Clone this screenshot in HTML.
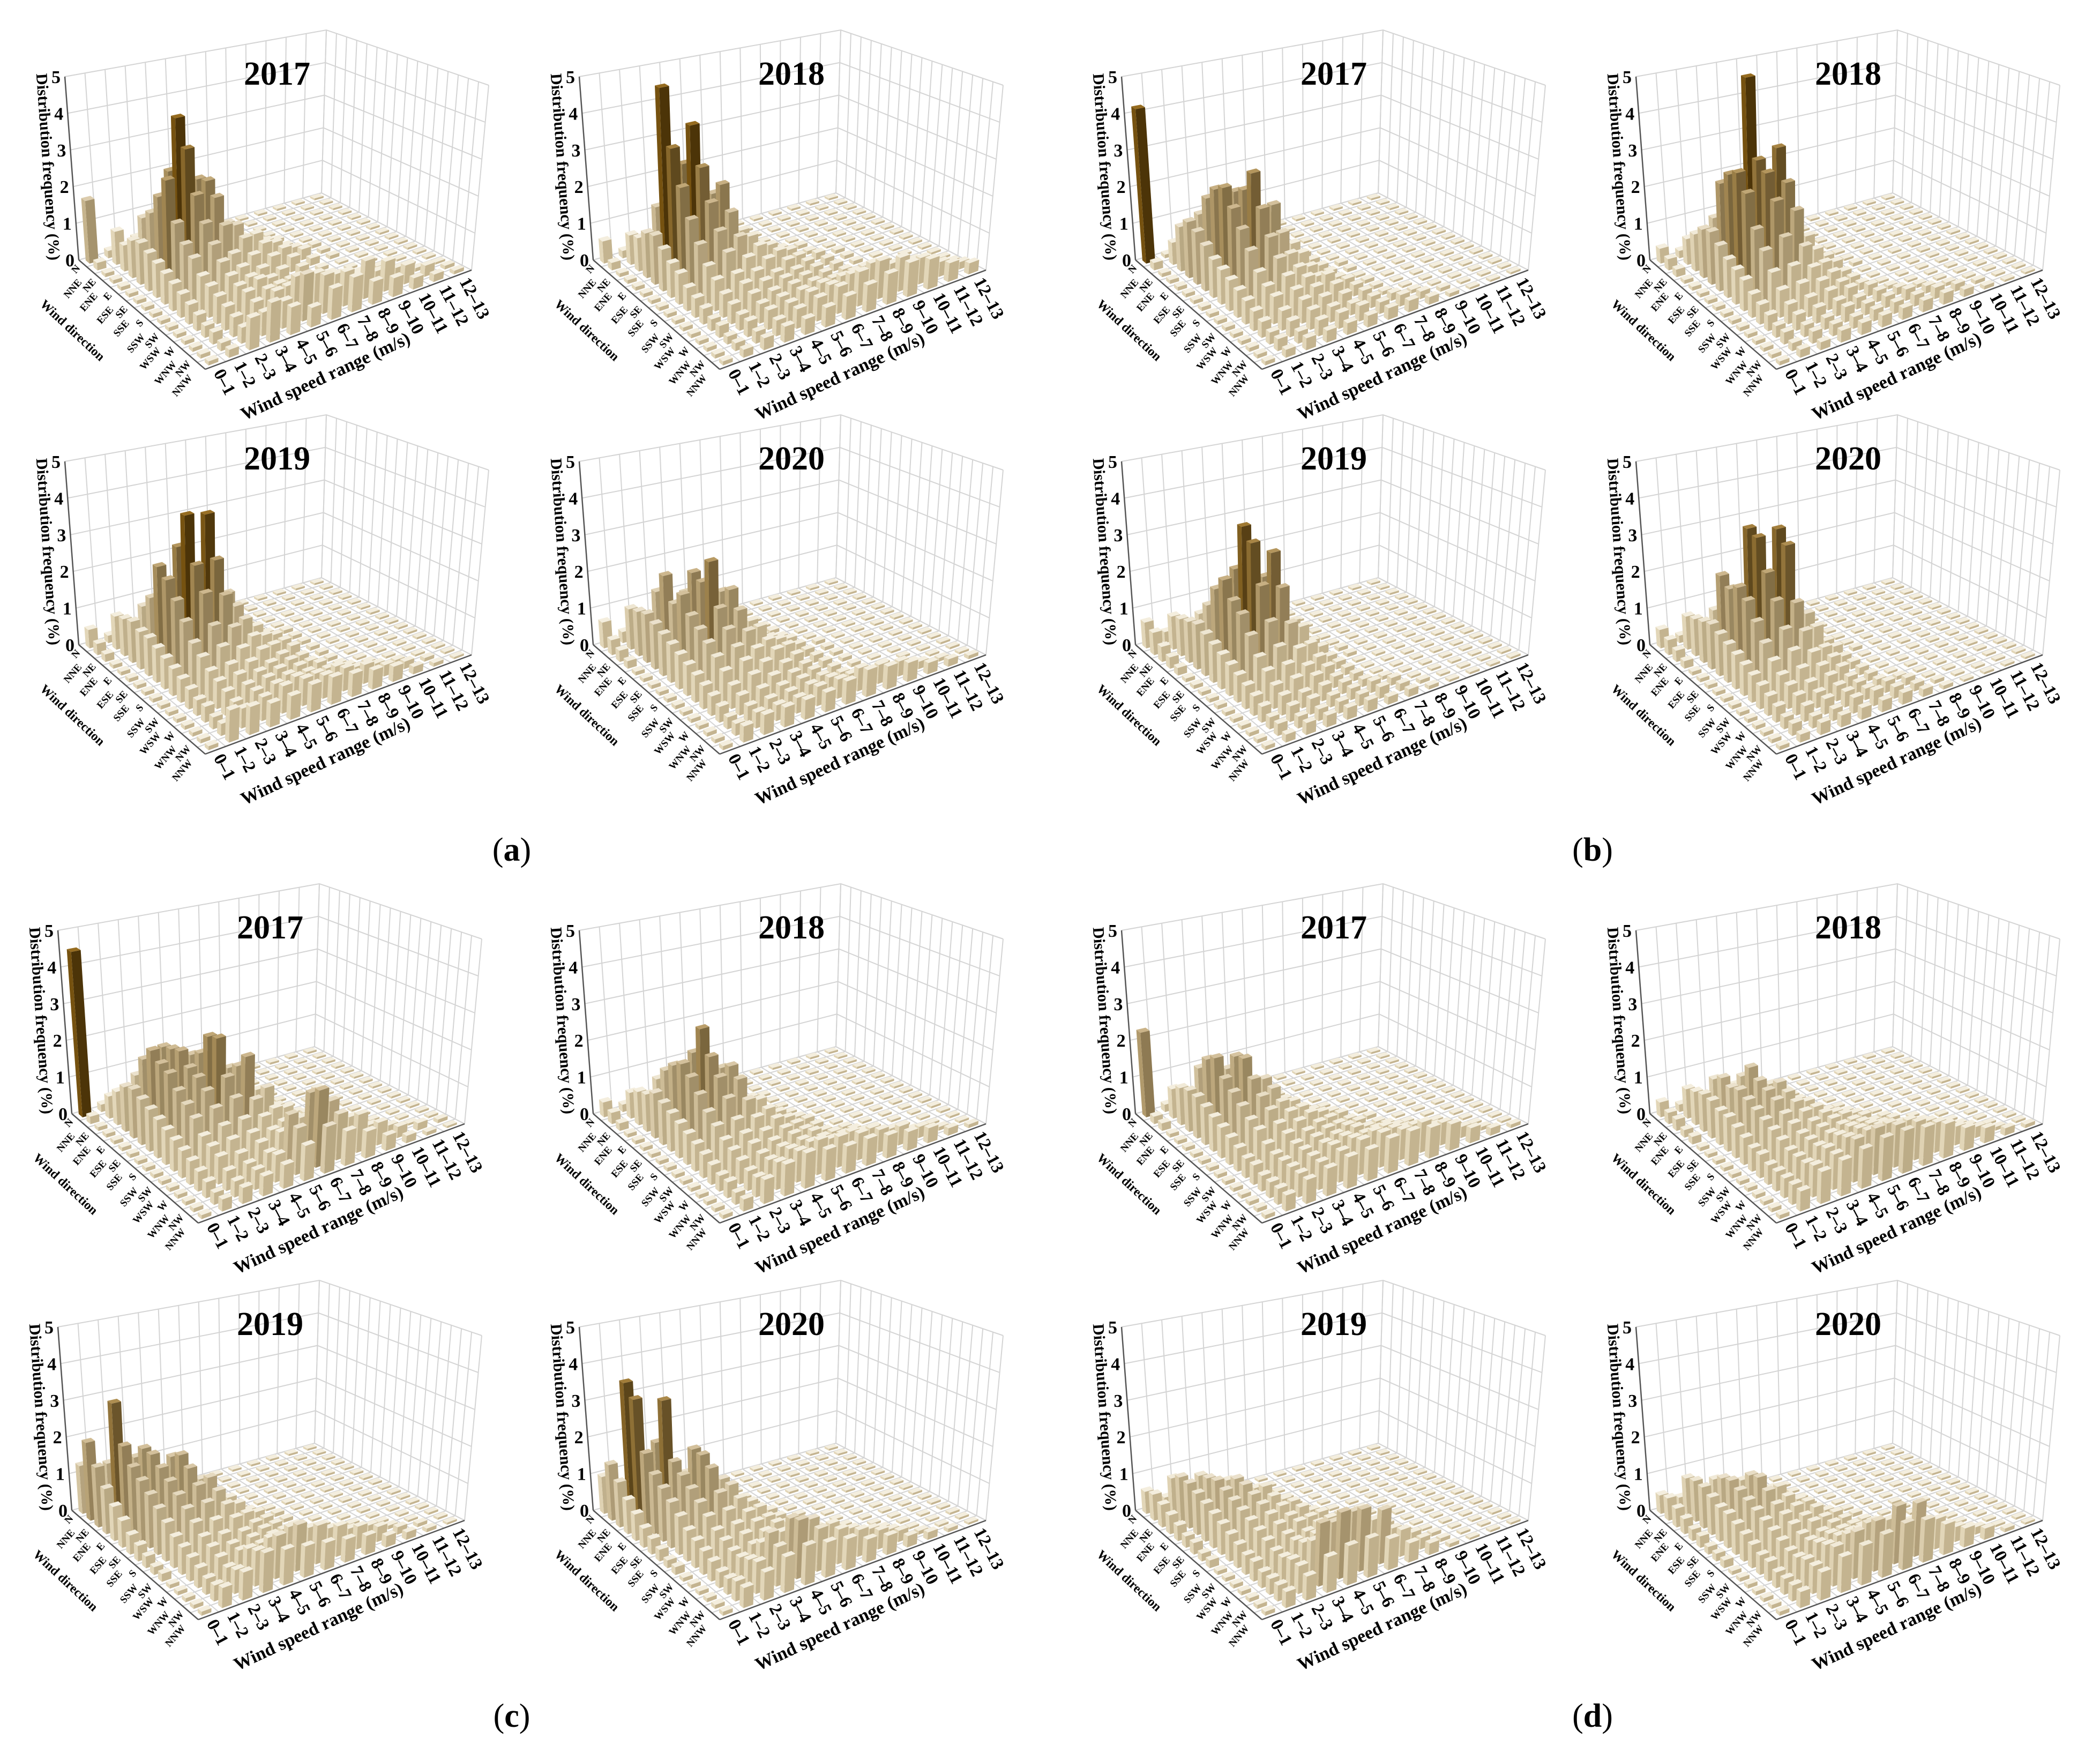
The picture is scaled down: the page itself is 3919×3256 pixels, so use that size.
<!DOCTYPE html>
<html><head><meta charset="utf-8">
<style>
html,body{margin:0;padding:0;background:#fff;}
svg{display:block;}
text{font-family:"Liberation Serif",serif;}
</style></head>
<body>
<svg id="fig" width="3919" height="3256" viewBox="0 0 3919 3256" xmlns="http://www.w3.org/2000/svg">
<rect width="3919" height="3256" fill="#fff"/>
<text x="955" y="1606" font-size="62" text-anchor="middle">(<tspan font-weight="bold">a</tspan>)</text>
<text x="2972" y="1606" font-size="62" text-anchor="middle">(<tspan font-weight="bold">b</tspan>)</text>
<text x="955" y="3222" font-size="62" text-anchor="middle">(<tspan font-weight="bold">c</tspan>)</text>
<text x="2972" y="3222" font-size="62" text-anchor="middle">(<tspan font-weight="bold">d</tspan>)</text>
</svg>
<script>
const directions=["N","NNE","NE","ENE","E","ESE","SE","SSE","S","SSW","SW","WSW","W","WNW","NW","NNW"];
const speeds=["0–1","1–2","2–3","3–4","4–5","5–6","6–7","7–8","8–9","9–10","10–11","11–12","12–13"];
const zTicks=[0,1,2,3,4,5];
const years=["2017","2018","2019","2020"];

const A17=[[1.7,0.2,0.1],[0.2,0.9,0.6,0.3,0.1],[0.1,0.7,1.3,0.8,0.4,0.2,0.1],[0.1,1.0,1.6,2.6,1.6,0.6,0.3,0.1],[0.1,1.1,2.2,4.2,2.4,1.0,0.5,0.2,0.1],[0.1,1.0,2.8,3.5,2.5,1.2,0.6,0.4,0.1],[0.1,0.9,1.8,2.4,2.2,1.3,0.9,0.5,0.2,0.1],[0.1,0.8,1.4,1.8,1.6,1.1,0.8,0.5,0.3,0.1],[0.1,0.7,1.2,1.4,1.0,0.8,0.6,0.4,0.2,0.1],[0.1,0.6,0.9,1.1,0.8,0.6,0.4,0.3,0.1],[0.1,0.5,0.8,0.9,0.7,0.5,0.3,0.2,0.1],[0.1,0.4,0.7,0.8,0.8,0.5,0.4,0.3,0.2,0.1],[0.1,0.3,0.6,0.8,0.7,0.6,0.5,0.4,0.3,0.2,0.1],[0.1,0.3,0.5,0.7,0.8,1.0,0.9,0.7,0.5,0.4,0.3,0.1],[0.1,0.2,0.4,0.6,0.7,1.2,1.0,0.9,1.0,0.8,0.5,0.3,0.1],[0.1,0.2,0.8,1.0,0.7,0.5,0.8,0.9,0.6,0.5,0.3,0.2,0.1]];
const A18=[[0.6,0.2,0.1],[0.2,0.8,0.5,0.2,0.1],[0.1,0.9,1.6,0.9,0.3,0.1],[0.1,1.2,5.0,2.8,1.2,0.4,0.1],[0.1,1.3,3.5,4.0,2.0,0.8,0.3,0.1],[0.1,1.1,2.6,3.0,2.4,1.0,0.4,0.2,0.1],[0.1,0.9,1.9,2.2,1.8,1.0,0.6,0.3,0.1],[0.1,0.8,1.4,1.6,1.3,0.9,0.6,0.3,0.2,0.1],[0.1,0.6,1.0,1.2,0.9,0.7,0.5,0.3,0.2,0.1],[0.1,0.5,0.8,0.8,0.7,0.5,0.4,0.3,0.2,0.1],[0.1,0.4,0.6,0.7,0.6,0.5,0.4,0.3,0.2,0.1],[0.1,0.3,0.5,0.6,0.5,0.5,0.4,0.3,0.3,0.2,0.1],[0.1,0.3,0.4,0.5,0.5,0.5,0.5,0.5,0.4,0.3,0.2,0.1],[0.1,0.2,0.4,0.5,0.5,0.6,0.6,0.7,0.8,0.6,0.4,0.2,0.1],[0.1,0.2,0.3,0.4,0.5,0.6,0.7,0.9,1.0,0.9,0.7,0.4,0.2],[0.1,0.2,0.3,0.4,0.4,0.5,0.6,0.7,0.8,0.9,0.8,0.5,0.3]];
const A19=[[0.5,0.2,0.1],[0.3,0.9,0.6,0.3,0.1],[0.2,1.0,1.2,0.9,0.4,0.1],[0.1,1.1,1.6,1.8,1.0,0.4,0.1],[0.1,1.0,2.6,3.0,2.0,0.8,0.3,0.1],[0.1,1.0,2.4,4.0,3.9,1.6,0.6,0.2,0.1],[0.1,0.9,2.0,2.8,2.8,1.4,0.7,0.3,0.1],[0.1,0.8,1.6,2.2,2.0,1.2,0.6,0.3,0.1],[0.1,0.7,1.2,1.5,1.3,0.9,0.5,0.3,0.1],[0.1,0.6,1.0,1.1,0.9,0.7,0.4,0.2,0.1],[0.1,0.5,0.8,0.8,0.7,0.5,0.4,0.2,0.1],[0.1,0.4,0.7,0.7,0.6,0.5,0.4,0.3,0.1],[0.1,0.4,0.6,0.6,0.6,0.5,0.4,0.3,0.2,0.1],[0.1,0.3,0.5,0.6,0.6,0.6,0.5,0.5,0.3,0.2,0.1],[0.1,0.3,0.5,0.6,0.7,0.7,0.6,0.6,0.5,0.3,0.2,0.1],[0.1,0.8,0.7,0.6,0.6,0.7,0.7,0.6,0.5,0.4,0.2,0.1]];
const A20=[[0.7,0.3,0.1],[0.4,1.1,0.8,0.3,0.1],[0.3,1.2,1.6,1.1,0.4,0.1],[0.2,1.3,2.2,1.6,0.8,0.3,0.1],[0.1,1.2,1.6,2.3,1.4,0.6,0.2,0.1],[0.1,1.1,2.0,2.2,1.8,0.8,0.3,0.1],[0.1,1.0,1.6,2.9,2.0,1.0,0.4,0.2],[0.1,0.9,1.4,1.8,1.6,1.0,0.5,0.2,0.1],[0.1,0.8,1.2,1.4,1.2,0.8,0.5,0.2,0.1],[0.1,0.7,1.0,1.1,0.9,0.7,0.4,0.2,0.1],[0.1,0.6,0.8,0.9,0.7,0.5,0.3,0.2,0.1],[0.1,0.5,0.6,0.7,0.5,0.4,0.3,0.2,0.1],[0.1,0.4,0.5,0.5,0.4,0.4,0.3,0.2,0.1],[0.1,0.3,0.4,0.4,0.4,0.4,0.4,0.3,0.2,0.1],[0.1,0.3,0.4,0.4,0.4,0.5,0.5,0.6,0.5,0.4,0.2,0.1],[0.1,0.4,0.5,0.5,0.5,0.5,0.6,0.7,0.6,0.5,0.3,0.2,0.1]];
const B17=[[4.2,0.1],[0.2,0.6,0.3,0.1],[0.1,1.2,1.4,0.6,0.2],[0.1,1.5,2.0,1.6,0.6,0.2],[0.1,1.4,2.4,2.2,1.2,0.4,0.1],[0.1,1.2,2.6,2.4,1.6,0.6,0.2],[0.1,1.0,2.2,3.0,2.0,0.8,0.2],[0.1,0.9,1.8,2.2,1.4,0.7,0.2,0.1],[0.1,0.8,1.4,1.6,1.0,0.5,0.2,0.1],[0.1,0.7,1.0,1.2,0.8,0.4,0.2],[0.1,0.6,0.8,0.9,0.7,0.6,0.3,0.1],[0.1,0.5,0.7,0.7,0.6,0.5,0.3,0.1],[0.1,0.4,0.5,0.6,0.5,0.4,0.3,0.1],[0.1,0.3,0.4,0.5,0.4,0.3,0.3,0.2,0.1],[0.1,0.3,0.3,0.4,0.4,0.4,0.3,0.3,0.2,0.1],[0.1,0.2,0.3,0.3,0.3,0.3,0.3,0.3,0.2,0.1]];
const B18=[[0.4,0.2],[0.3,0.7,0.4,0.1],[0.2,1.0,1.3,0.8,0.2],[0.1,1.3,2.4,1.6,0.6,0.1],[0.1,1.4,2.8,5.3,2.2,0.5,0.1],[0.1,1.2,3.0,3.2,3.4,0.8,0.2],[0.1,1.0,2.6,3.0,2.6,1.0,0.3],[0.1,0.9,1.8,2.4,2.0,0.8,0.3,0.1],[0.1,0.8,1.4,1.6,1.2,0.6,0.2],[0.1,0.6,1.0,1.0,0.8,0.5,0.2],[0.1,0.5,0.7,0.7,0.6,0.4,0.2],[0.1,0.4,0.5,0.5,0.5,0.4,0.3,0.1],[0.1,0.3,0.4,0.4,0.4,0.3,0.3,0.2,0.1],[0.1,0.3,0.3,0.3,0.4,0.3,0.3,0.3,0.2,0.1],[0.1,0.2,0.3,0.3,0.3,0.3,0.3,0.3,0.3,0.2,0.1],[0.1,0.2,0.2,0.3,0.3,0.3,0.3,0.3,0.3,0.2,0.1]];
const B19=[[0.7,0.3],[0.6,0.9,0.4,0.1],[0.4,1.0,1.0,0.6,0.2],[0.3,1.1,1.4,1.2,0.5,0.1],[0.2,1.2,2.0,2.4,1.0,0.3],[0.1,1.1,2.4,3.7,2.2,0.6,0.2],[0.1,1.0,2.0,3.4,3.0,1.0,0.3],[0.1,0.9,1.8,2.4,2.2,1.0,0.3,0.1],[0.1,0.8,1.4,1.6,1.4,0.7,0.2,0.1],[0.1,0.7,1.0,1.1,0.9,0.5,0.2],[0.1,0.6,0.8,0.8,0.6,0.4,0.2],[0.1,0.5,0.6,0.6,0.5,0.3,0.2],[0.1,0.4,0.5,0.4,0.4,0.3,0.2,0.1],[0.1,0.3,0.4,0.4,0.3,0.3,0.3,0.2],[0.1,0.3,0.3,0.3,0.3,0.3,0.3,0.2,0.1],[0.1,0.2,0.3,0.3,0.3,0.3,0.2,0.2,0.1]];
const B20=[[0.5,0.2],[0.4,0.9,0.4,0.1],[0.3,1.0,1.1,0.6,0.2],[0.2,1.1,2.2,1.4,0.5,0.1],[0.1,1.2,2.0,3.5,1.6,0.4,0.1],[0.1,1.1,2.2,3.4,3.5,0.9,0.2],[0.1,1.0,2.0,2.6,3.2,1.2,0.3],[0.1,0.9,1.6,2.0,1.8,1.0,0.3,0.1],[0.1,0.8,1.2,1.4,1.2,0.6,0.2],[0.1,0.7,0.9,1.0,0.8,0.5,0.2],[0.1,0.6,0.7,0.7,0.6,0.4,0.2],[0.1,0.5,0.6,0.5,0.5,0.3,0.2],[0.1,0.4,0.5,0.4,0.4,0.3,0.2,0.1],[0.1,0.3,0.4,0.4,0.4,0.3,0.3,0.2],[0.1,0.3,0.3,0.3,0.4,0.4,0.3,0.2,0.1],[0.1,0.2,0.3,0.3,0.3,0.3,0.3,0.2,0.1]];
const C17=[[4.5,0.2],[0.2,0.6,0.3,0.1],[0.1,0.9,1.2,0.8,0.3],[0.1,1.2,1.8,2.0,1.0,0.3],[0.1,1.3,2.2,2.1,1.8,0.6,0.2],[0.1,1.2,2.0,2.2,2.0,1.2,0.4],[0.1,1.1,1.9,1.9,2.6,1.6,0.6,0.2],[0.1,1.0,1.6,1.8,2.7,1.8,1.0,0.4],[0.1,0.9,1.4,1.6,1.8,2.2,1.2,0.5,0.2],[0.1,0.8,1.2,1.3,1.4,1.2,0.8,0.4,0.2],[0.1,0.7,0.9,1.0,1.0,0.9,0.6,0.3,0.1],[0.1,0.6,0.8,0.8,0.8,0.7,0.6,0.4,0.2],[0.1,0.5,0.7,0.6,0.7,0.8,1.0,0.8,0.5,0.2],[0.1,0.4,0.5,0.5,0.6,1.4,1.8,1.4,0.8,0.4,0.2],[0.1,0.3,0.4,0.5,0.7,1.2,2.0,1.2,1.0,0.6,0.3,0.2,0.1],[0.1,0.3,0.4,0.5,0.6,0.9,1.2,0.9,0.7,0.4,0.2,0.1]];
const C18=[[0.4,0.2],[0.3,0.7,0.5,0.2],[0.2,0.9,1.1,0.8,0.3],[0.1,1.0,1.5,1.3,0.8,0.2],[0.1,1.2,1.8,2.0,1.2,0.4,0.1],[0.1,1.1,2.0,2.8,1.6,0.6,0.2],[0.1,1.0,1.8,2.2,1.8,0.8,0.3],[0.1,0.9,1.5,1.8,1.6,0.9,0.4,0.1],[0.1,0.8,1.2,1.4,1.2,0.8,0.4,0.2],[0.1,0.7,1.0,1.0,0.9,0.7,0.4,0.2],[0.1,0.6,0.8,0.8,0.7,0.6,0.4,0.2,0.1],[0.1,0.5,0.7,0.7,0.6,0.6,0.5,0.3,0.2],[0.1,0.4,0.6,0.6,0.6,0.6,0.5,0.4,0.3,0.1],[0.1,0.4,0.5,0.6,0.7,0.7,0.6,0.6,0.5,0.3,0.1],[0.1,0.3,0.5,0.7,0.8,0.9,0.8,0.7,0.6,0.5,0.3,0.1],[0.1,0.3,0.6,0.8,0.9,0.8,0.7,0.7,0.6,0.5,0.4,0.2,0.1]];
const C19=[[1.3,0.6,0.2],[2.1,1.4,0.7,0.2],[1.6,3.2,1.6,0.6,0.2],[1.2,2.2,2.0,1.2,0.5,0.1],[0.9,1.8,2.0,1.8,0.8,0.3],[0.7,1.6,1.8,2.0,1.2,0.5,0.1],[0.5,1.4,1.6,1.8,1.4,0.7,0.2],[0.4,1.2,1.4,1.5,1.2,0.7,0.3,0.1],[0.3,1.0,1.2,1.2,1.0,0.6,0.3,0.1],[0.2,0.8,1.0,0.9,0.8,0.5,0.3,0.1],[0.2,0.7,0.8,0.7,0.6,0.5,0.3,0.1],[0.1,0.6,0.7,0.6,0.6,0.5,0.4,0.2,0.1],[0.1,0.5,0.6,0.6,0.6,0.6,0.5,0.4,0.2,0.1],[0.1,0.4,0.5,0.8,0.9,1.0,0.8,0.6,0.4,0.3,0.1],[0.1,0.4,0.6,0.9,1.1,1.2,1.0,0.8,0.6,0.4,0.2,0.1],[0.1,0.5,0.7,1.0,0.9,0.8,0.7,0.6,0.5,0.3,0.2,0.1]];
const C20=[[1.0,0.6,0.2],[1.5,3.6,1.2,0.4,0.1],[1.2,3.3,2.0,0.8,0.2],[0.9,2.0,3.3,1.2,0.4],[0.7,1.6,1.8,2.0,0.8,0.2],[0.5,1.4,1.6,2.0,1.2,0.4],[0.4,1.2,1.4,1.8,1.2,0.6,0.2],[0.3,1.0,1.2,1.3,1.0,0.6,0.2],[0.2,0.8,1.0,1.0,0.8,0.5,0.2],[0.2,0.7,0.8,0.8,0.7,0.5,0.2],[0.1,0.6,0.7,0.7,0.6,0.4,0.3,0.1],[0.1,0.5,0.6,0.6,0.6,0.5,0.3,0.2],[0.1,0.4,0.6,0.8,0.9,0.8,0.6,0.4,0.2,0.1],[0.1,0.4,0.7,1.2,1.4,1.2,0.9,0.6,0.4,0.2],[0.1,0.5,0.8,1.0,1.5,1.1,0.9,0.7,0.5,0.3,0.1],[0.1,0.5,0.7,0.9,1.0,0.9,0.8,0.6,0.5,0.3,0.2,0.1]];
const D17=[[2.3,0.2],[0.2,0.8,0.5,0.2],[0.2,1.0,1.4,0.8,0.3],[0.1,1.1,1.8,1.4,0.7,0.2],[0.1,1.1,2.0,1.9,1.1,0.4,0.1],[0.1,1.0,1.6,2.0,1.3,0.6,0.2],[0.1,0.9,1.4,1.6,1.2,0.7,0.3,0.1],[0.1,0.8,1.2,1.3,1.0,0.7,0.4,0.2],[0.1,0.7,1.0,1.1,0.9,0.7,0.4,0.2,0.1],[0.1,0.6,0.9,0.9,0.8,0.6,0.4,0.3,0.1],[0.1,0.5,0.7,0.8,0.7,0.6,0.5,0.3,0.2],[0.1,0.5,0.6,0.7,0.7,0.6,0.6,0.4,0.3,0.1],[0.1,0.4,0.6,0.7,0.7,0.7,0.6,0.6,0.4,0.2,0.1],[0.1,0.4,0.6,0.7,0.8,0.8,0.8,0.7,0.6,0.4,0.2],[0.1,0.4,0.6,0.7,0.8,0.9,0.9,0.8,0.8,0.6,0.3,0.1],[0.1,0.4,0.6,0.7,0.8,0.8,0.9,0.9,0.8,0.7,0.4,0.2,0.1]];
const D18=[[0.4,0.2],[0.3,0.8,0.5,0.2],[0.3,0.9,1.1,0.8,0.3],[0.2,1.0,1.3,1.2,0.6,0.2],[0.2,1.0,1.2,1.6,1.0,0.4,0.1],[0.1,0.9,1.3,1.4,1.2,0.6,0.2],[0.1,0.9,1.2,1.3,1.1,0.7,0.3,0.1],[0.1,0.8,1.1,1.2,1.0,0.7,0.4,0.2],[0.1,0.7,1.0,1.0,0.9,0.7,0.5,0.3,0.1],[0.1,0.6,0.9,0.9,0.8,0.7,0.5,0.3,0.2],[0.1,0.6,0.8,0.8,0.8,0.7,0.6,0.4,0.2,0.1],[0.1,0.5,0.7,0.8,0.8,0.8,0.7,0.5,0.3,0.1],[0.1,0.5,0.7,0.8,0.9,0.9,0.8,0.7,0.5,0.2,0.1],[0.1,0.5,0.7,0.9,1.0,1.0,1.0,0.9,0.7,0.4,0.2],[0.1,0.5,0.8,0.9,1.1,1.2,1.1,1.0,0.8,0.5,0.3,0.1],[0.1,0.5,0.8,0.9,1.0,1.1,1.1,1.0,0.9,0.6,0.4,0.2,0.1]];
const D19=[[0.6,0.3],[0.7,1.0,0.5,0.2],[0.6,1.2,1.1,0.6,0.2],[0.5,1.2,1.2,1.0,0.5,0.1],[0.4,1.1,1.3,1.2,0.8,0.3],[0.3,1.0,1.2,1.2,1.0,0.5,0.1],[0.3,0.9,1.1,1.1,0.9,0.6,0.2],[0.2,0.8,1.0,1.0,0.8,0.6,0.3,0.1],[0.2,0.7,0.9,0.9,0.7,0.5,0.3,0.1],[0.1,0.6,0.8,0.8,0.7,0.5,0.3,0.2],[0.1,0.5,0.7,0.7,0.6,0.5,0.4,0.2,0.1],[0.1,0.5,0.6,0.7,0.7,0.6,0.5,0.3,0.1],[0.1,0.4,0.6,0.8,0.9,0.9,0.7,0.4,0.2],[0.1,0.4,0.7,1.0,1.3,1.4,1.0,0.6,0.3,0.1],[0.1,0.4,0.7,1.6,1.7,1.6,1.4,0.7,0.3,0.1],[0.1,0.4,0.6,0.9,1.0,1.0,0.8,0.5,0.3,0.1]];
const D20=[[0.5,0.3],[0.6,1.0,0.5,0.2],[0.5,1.1,1.0,0.6,0.2],[0.4,1.1,1.2,1.0,0.5,0.1],[0.3,1.0,1.3,1.3,0.8,0.3],[0.3,0.9,1.2,1.4,1.0,0.5,0.1],[0.2,0.9,1.1,1.2,0.9,0.6,0.2],[0.2,0.8,1.0,1.0,0.8,0.6,0.3,0.1],[0.2,0.7,0.9,0.9,0.7,0.5,0.3,0.1],[0.1,0.6,0.8,0.8,0.7,0.5,0.3,0.2],[0.1,0.5,0.7,0.7,0.6,0.5,0.4,0.2,0.1],[0.1,0.5,0.6,0.7,0.7,0.6,0.5,0.3,0.1],[0.1,0.4,0.6,0.8,0.8,0.8,0.7,0.5,0.3,0.1],[0.1,0.4,0.7,0.9,1.0,1.1,1.0,0.8,0.5,0.2],[0.1,0.4,0.7,1.0,1.2,1.3,1.5,1.4,0.8,0.4,0.2],[0.1,0.4,0.7,0.9,1.0,1.1,1.2,1.1,0.8,0.5,0.3,0.1]];

const panels=[
 {id:"a",data:[A17,A18,A19,A20],ox:[0,960,0,960],oy:[0,0,718,718]},
 {id:"b",data:[B17,B18,B19,B20],ox:[1972,2932,1972,2932],oy:[0,0,718,718]},
 {id:"c",data:[C17,C18,C19,C20],ox:[-13,960,-13,960],oy:[1593,1593,2333,2333]},
 {id:"d",data:[D17,D18,D19,D20],ox:[1972,2932,1972,2932],oy:[1593,1593,2333,2333]}
];

const NS="http://www.w3.org/2000/svg";
const svg=document.getElementById("fig");
const Lc=[147,485],Bc=[600,360],Rc=[880,504],Fc=[383,689];
const HL=[-26,-342],HB=[9,-304],HR=[32,-345],HF=[8,-380];
const ND=directions.length, NSP=speeds.length, ZMAX=5;
function bil(a,b,c,d,u,v){
  return [(1-u)*(1-v)*a[0]+u*(1-v)*b[0]+u*v*c[0]+(1-u)*v*d[0],(1-u)*(1-v)*a[1]+u*(1-v)*b[1]+u*v*c[1]+(1-u)*v*d[1]];}
function proj(d,s,z){
  const u=d/ND,v=s/NSP;
  const p=bil(Lc,Fc,Rc,Bc,u,v),h=bil(HL,HF,HR,HB,u,v);
  return [p[0]+h[0]*z/ZMAX,p[1]+h[1]*z/ZMAX];}
function el(tag,attrs,parent){const e=document.createElementNS(NS,tag);for(const k in attrs)e.setAttribute(k,attrs[k]);parent.appendChild(e);return e;}
function pts(a){return a.map(p=>p[0].toFixed(1)+","+p[1].toFixed(1)).join(" ");}
function mix(c1,c2,t){return "rgb("+c1.map((x,i)=>Math.round(x+(c2[i]-x)*t)).join(",")+")";}
const topL=[244,238,222],topD=[150,108,32],frL=[226,214,184],frD=[118,82,16],sdL=[196,180,144],sdD=[76,52,8];

function drawChart(g,data,year){
  const grid=el("g",{},g);
  
  
  const gs={stroke:"#d4d4d4","stroke-width":2,fill:"none"};
  for(const z of zTicks){
    el("polyline",Object.assign({points:pts([proj(0,0,z),proj(0,NSP,z),proj(ND,NSP,z)])},gs),grid);
  }
  for(let s=0;s<=NSP;s++){el("line",Object.assign({x1:proj(0,s,0)[0],y1:proj(0,s,0)[1],x2:proj(0,s,ZMAX)[0],y2:proj(0,s,ZMAX)[1]},gs),grid);
    el("line",Object.assign({x1:proj(0,s,0)[0],y1:proj(0,s,0)[1],x2:proj(ND,s,0)[0],y2:proj(ND,s,0)[1]},gs),grid);}
  for(let d=0;d<=ND;d++){el("line",Object.assign({x1:proj(d,NSP,0)[0],y1:proj(d,NSP,0)[1],x2:proj(d,NSP,ZMAX)[0],y2:proj(d,NSP,ZMAX)[1]},gs),grid);
    el("line",Object.assign({x1:proj(d,0,0)[0],y1:proj(d,0,0)[1],x2:proj(d,NSP,0)[0],y2:proj(d,NSP,0)[1]},gs),grid);}
  const ax={stroke:"#555","stroke-width":2.5,fill:"none"};
  const la=el("line",Object.assign({x1:proj(0,0,0)[0],y1:proj(0,0,0)[1],x2:proj(0,0,ZMAX)[0],y2:proj(0,0,ZMAX)[1]},ax),g);
  
  const ld=el("line",Object.assign({x1:proj(0,0,0)[0],y1:proj(0,0,0)[1],x2:proj(ND,0,0)[0],y2:proj(ND,0,0)[1]},ax),g);
  
  const ls=el("line",Object.assign({x1:proj(ND,0,0)[0],y1:proj(ND,0,0)[1],x2:proj(ND,NSP,0)[0],y2:proj(ND,NSP,0)[1]},ax),g);
  
  const cells=[];
  for(let d=0;d<ND;d++)for(let s=0;s<NSP;s++){const v=(data[d]&&data[d][s])||0;cells.push({d,s,v});}
  cells.sort((a,b)=>(a.d+(NSP-a.s))-(b.d+(NSP-b.s)));
  const bars=el("g",{},g);
  
  
  const hw=0.24;
  for(const c of cells){
    const z=Math.max(c.v,0.06);const t=Math.min(1,Math.max(0,(c.v-0.9)/3.1));
    const d0=c.d+0.5-hw,d1=c.d+0.5+hw,s0=c.s+0.5-hw,s1=c.s+0.5+hw;
    const bg=el("g",{},bars);
    
    
    el("polygon",{points:pts([proj(d1,s0,0),proj(d1,s1,0),proj(d1,s1,z),proj(d1,s0,z)]),fill:mix(sdL,sdD,t)},bg);
    el("polygon",{points:pts([proj(d0,s0,0),proj(d1,s0,0),proj(d1,s0,z),proj(d0,s0,z)]),fill:mix(frL,frD,t)},bg);
    el("polygon",{points:pts([proj(d0,s0,z),proj(d1,s0,z),proj(d1,s1,z),proj(d0,s1,z)]),fill:mix(topL,topD,t)},bg);
  }
  for(const z of zTicks){const p=proj(0,0,z);
    const t=el("text",{x:p[0]-8,y:p[1]+12,"font-size":34,"font-weight":"bold","text-anchor":"end"},g);
    t.textContent=z;}
  const zt=el("text",{x:0,y:0,"font-size":30,"font-weight":"bold","text-anchor":"middle",transform:"translate(80,312) rotate(86)"},g);
  zt.textContent="Distribution frequency (%)";
  for(let d=0;d<ND;d++){const p=proj(d+0.5,0,0);
    const off=(d%2===0)?6:24;
    const x=p[0]-0.654*off, y=p[1]+0.757*off;
    const t=el("text",{x:0,y:0,"font-size":19,"font-weight":"bold","text-anchor":"end",transform:`translate(${x.toFixed(1)},${(y+5).toFixed(1)}) rotate(-49)`},g);
    t.textContent=directions[d];}
  const dt=el("text",{x:0,y:0,"font-size":24,"font-weight":"bold","text-anchor":"middle",transform:"translate(130,622) rotate(43)"},g);
  dt.textContent="Wind direction";
  for(let s=0;s<NSP;s++){const p=proj(ND,s+0.5,0);
    const t=el("text",{x:0,y:0,"font-size":33,"font-weight":"bold","text-anchor":"start",transform:`translate(${(p[0]-4).toFixed(1)},${(p[1]+14).toFixed(1)}) rotate(62)`},g);
    t.textContent=speeds[s];}
  const st=el("text",{x:0,y:0,"font-size":34,"font-weight":"bold","text-anchor":"middle",transform:"translate(612,712) rotate(-25)"},g);
  st.textContent="Wind speed range (m/s)";
  const yt=el("text",{x:517,y:158,"font-size":62,"font-weight":"bold","text-anchor":"middle"},g);
  yt.textContent=year;
}
for(const P of panels){
  for(let i=0;i<4;i++){
    const g=el("g",{transform:`translate(${P.ox[i]},${P.oy[i]})`},svg);
    
    
    drawChart(g,P.data[i],years[i]);
  }
}
</script>
</body></html>
